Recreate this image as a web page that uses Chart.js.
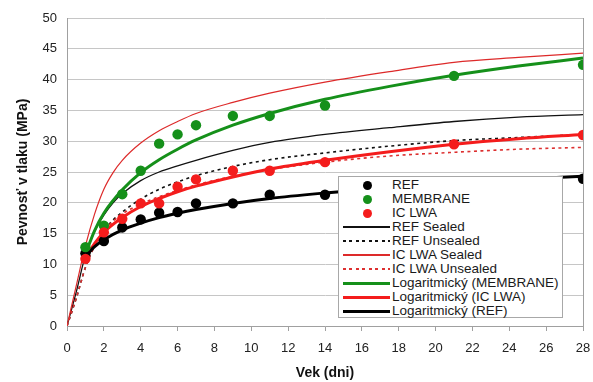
<!DOCTYPE html>
<html><head><meta charset="utf-8">
<script src="https://cdn.jsdelivr.net/npm/chart.js@4.4.1/dist/chart.umd.min.js"></script>
<style>
html,body{margin:0;padding:0;background:#fff;}
#wrap{position:relative;width:593px;height:382px;}
#legend{position:absolute;left:338px;top:176px;width:223px;height:140px;background:#fff;border:1px solid #a8a8a8;font-family:"Liberation Sans",Arial,sans-serif;font-size:13.5px;color:#1a1a1a;}
.row{position:absolute;left:0;width:220px;height:14px;line-height:14px;white-space:nowrap;}
.sample{position:absolute;left:4px;width:47px;}
.dot{position:absolute;left:24px;top:2.5px;width:9px;height:9px;border-radius:50%;}
.txt{position:absolute;left:53px;top:0;}
</style></head>
<body><div id="wrap"><canvas id="c" width="593" height="382"></canvas><div id="legend"></div></div>
<script>
// ---- data ----
const days = [1, 2, 3, 4, 5, 6, 7, 9, 11, 14, 21, 28];
const refVals = [11.8, 13.8, 16.0, 17.3, 18.4, 18.5, 19.9, 19.9, 21.3, 21.3, 22.8, 23.9];
const membraneVals = [12.8, 16.3, 21.4, 25.2, 29.6, 31.1, 32.6, 34.1, 34.1, 35.8, 40.6, 42.4];
const iclwaVals = [10.9, 15.2, 17.4, 19.9, 19.9, 22.6, 23.8, 25.2, 25.2, 26.6, 29.5, 31.0];

const curveDays = [0, 0.5, 1, 1.5, 2, 2.5, 3, 4, 5, 6, 7, 9, 11, 14, 17.5, 21, 24.5, 28];
const refSealed =     [0, 5.5, 11.5, 15.4, 18.0, 20.0, 21.5, 23.6, 25.0, 26.0, 26.9, 28.5, 29.8, 31.1, 32.2, 33.2, 33.9, 34.3];
const refUnsealed =   [0, 4.5, 9.5, 13.0, 15.5, 17.2, 18.5, 20.6, 22.2, 23.4, 24.4, 25.9, 27.0, 28.1, 29.2, 30.1, 30.6, 31.1];
const iclwaSealed =   [0, 6.5, 13.0, 18.2, 22.2, 24.9, 26.9, 29.7, 31.7, 33.2, 34.5, 36.3, 37.8, 39.6, 41.3, 42.8, 43.6, 44.3];
const iclwaUnsealed = [0, 4.5, 9.5, 13.0, 15.4, 17.0, 18.2, 19.8, 21.0, 22.0, 22.9, 24.3, 25.4, 26.6, 27.6, 28.2, 28.7, 29.0];

const trendDays = [1, 1.5, 2, 3, 4, 5, 6, 7, 9, 11, 14, 17.5, 21, 24.5, 28];
const logMembrane = [11.7, 15.5, 18.3, 22.1, 24.9, 27.0, 28.7, 30.2, 32.6, 34.5, 36.8, 38.9, 40.7, 42.2, 43.5];
const logIclwa =    [11.0, 13.4, 15.2, 17.6, 19.4, 20.7, 21.8, 22.7, 24.2, 25.5, 26.9, 28.3, 29.5, 30.4, 31.1];
const logRef =      [11.3, 12.9, 14.0, 15.6, 16.7, 17.6, 18.3, 18.9, 19.9, 20.7, 21.6, 22.5, 23.2, 23.8, 24.3];

const xTickStep = 2, xMax = 28, yTickStep = 5, yMax = 50;
const xTitle = 'Vek (dni)';
const yTitle = 'Pevnosť v tlaku (MPa)';

// ---- build ----
const FONT = '"Liberation Sans", Arial, sans-serif';
const pts = (xs, ys) => xs.map((x, i) => ({x, y: ys[i]}));

// order: lower value is drawn on top
const series = [
  {label:'REF', kind:'dot', color:'#000000', xs:days, ys:refVals, order:2},
  {label:'MEMBRANE', kind:'dot', color:'#15901a', xs:days, ys:membraneVals, order:1},
  {label:'IC LWA', kind:'dot', color:'#f41c1c', xs:days, ys:iclwaVals, order:0},
  {label:'REF Sealed', kind:'line', color:'#111111', width:1.3, dash:[], xs:curveDays, ys:refSealed, order:9},
  {label:'REF Unsealed', kind:'line', color:'#111111', width:1.6, dash:[3,3.5], xs:curveDays, ys:refUnsealed, order:8},
  {label:'IC LWA Sealed', kind:'line', color:'#dd2a2a', width:1.2, dash:[], xs:curveDays, ys:iclwaSealed, order:7},
  {label:'IC LWA Unsealed', kind:'line', color:'#dd3030', width:1.6, dash:[3,3.5], xs:curveDays, ys:iclwaUnsealed, order:6},
  {label:'Logaritmický (MEMBRANE)', kind:'line', color:'#15901a', width:3, dash:[], xs:trendDays, ys:logMembrane, order:5},
  {label:'Logaritmický (IC LWA)', kind:'line', color:'#f41c1c', width:3, dash:[], xs:trendDays, ys:logIclwa, order:4},
  {label:'Logaritmický (REF)', kind:'line', color:'#000000', width:3, dash:[], xs:trendDays, ys:logRef, order:3}
];

const datasets = series.map(s => s.kind === 'dot' ? {
  label:s.label, data:pts(s.xs, s.ys), showLine:false, order:s.order,
  pointRadius:5.2, pointBackgroundColor:s.color, pointBorderColor:s.color, pointBorderWidth:0
} : {
  label:s.label, data:pts(s.xs, s.ys), showLine:true, pointRadius:0, order:s.order,
  borderColor:s.color, borderWidth:s.width, borderDash:s.dash,
  cubicInterpolationMode:'monotone', fill:false
});

const framePlugin = {
  id:'frame',
  afterDraw(chart){
    const {ctx, chartArea:a} = chart;
    ctx.save();
    ctx.strokeStyle = '#a0a0a0'; ctx.lineWidth = 1;
    ctx.beginPath();
    ctx.moveTo(Math.round(a.right)+0.5, a.top);
    ctx.lineTo(Math.round(a.right)+0.5, a.bottom);
    ctx.stroke();
    ctx.restore();
  }
};

new Chart(document.getElementById('c'), {
  type:'scatter',
  data:{datasets},
  options:{
    responsive:false, animation:false, devicePixelRatio:1,
    layout:{padding:{left:15, top:18, right:10, bottom:0}},
    plugins:{legend:{display:false}, tooltip:{enabled:false}},
    scales:{
      x:{type:'linear', min:0, max:xMax,
        ticks:{stepSize:xTickStep, autoSkip:false, maxRotation:0, color:'#222', padding:10, font:{family:FONT, size:13}},
        grid:{drawOnChartArea:false, drawTicks:true, tickLength:5, color:'#a0a0a0'},
        border:{color:'#a0a0a0'},
        title:{display:true, text:xTitle, color:'#111', padding:0, font:{family:FONT, size:14, weight:'bold'}},
        afterFit(s){ s.height = 56; s.paddingLeft = 0; s.paddingRight = 0; }
      },
      y:{min:0, max:yMax,
        ticks:{stepSize:yTickStep, color:'#222', padding:10, font:{family:FONT, size:13}},
        grid:{drawTicks:false, color:'#c6c6c6'},
        border:{color:'#a0a0a0'},
        title:{display:true, text:yTitle, color:'#111', padding:0, font:{family:FONT, size:14, weight:'bold'}},
        afterFit(s){ s.width = 52; s.paddingTop = 0; s.paddingBottom = 0; }
      }
    }
  },
  plugins:[framePlugin]
});

// ---- HTML legend (real text) ----
const leg = document.getElementById('legend');
series.forEach((s, i) => {
  const row = document.createElement('div');
  row.className = 'row';
  row.style.top = (1 + 14*i) + 'px';
  if (s.kind === 'dot') {
    const d = document.createElement('div');
    d.className = 'dot'; d.style.background = s.color;
    row.appendChild(d);
  } else {
    const l = document.createElement('div');
    l.className = 'sample';
    l.style.height = s.width + 'px';
    l.style.top = (7 - s.width/2) + 'px';
    if (s.dash.length) {
      l.style.background = `repeating-linear-gradient(to right, ${s.color} 0 ${s.dash[0]}px, transparent ${s.dash[0]}px ${s.dash[0]+s.dash[1]}px)`;
    } else {
      l.style.background = s.color;
    }
    row.appendChild(l);
  }
  const t = document.createElement('span');
  t.className = 'txt'; t.textContent = s.label;
  row.appendChild(t);
  leg.appendChild(row);
});
</script>
</body></html>
